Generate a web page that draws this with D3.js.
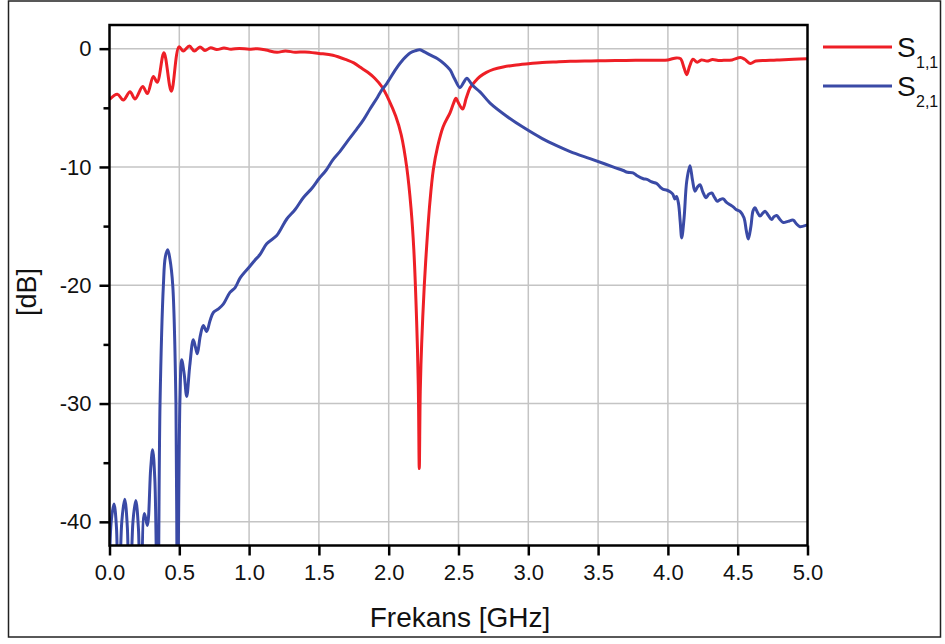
<!DOCTYPE html>
<html>
<head>
<meta charset="utf-8">
<script src="https://cdn.jsdelivr.net/npm/d3@7"></script>
<style>
  body { margin: 0; background: #fff; }
  svg { display: block; font-family: "Liberation Sans", Arial, sans-serif; }
</style>
</head>
<body>
<svg id="chart" width="945" height="644"></svg>
<script>
// frequency ticks [GHz] and dB ticks
var xTicks = [0, 0.5, 1, 1.5, 2, 2.5, 3, 3.5, 4, 4.5, 5];
var yTicks = [0, -10, -20, -30, -40];
var yMinorTicks = [-5, -15, -25, -35];

var seriesNames = ["1,1", "2,1"];
var seriesColors = ["#ee1f26", "#3a4aa6"];

// S11: [GHz, dB]
var s11 = [
    [0.00, -4.3], [0.056, -3.85], [0.099, -4.35], [0.147, -3.65], [0.183, -4.25],
    [0.238, -3.2], [0.271, -3.8], [0.314, -2.35], [0.342, -2.85], [0.390, -0.35],
    [0.443, -3.6], [0.498, 0.15], [0.529, -0.2], [0.572, 0.22], [0.608, -0.2],
    [0.648, 0.15], [0.684, -0.15], [0.725, 0.08], [0.768, -0.08], [0.82, 0.05],
    [0.87, -0.05], [0.93, 0.02], [1.0, -0.05], [1.06, 0.0], [1.12, -0.12],
    [1.2, -0.3], [1.26, -0.2], [1.33, -0.3], [1.4, -0.28], [1.5, -0.4],
    [1.6, -0.55], [1.7, -0.95], [1.75, -1.2], [1.8, -1.6], [1.85, -2.0],
    [1.9, -2.5], [1.95, -3.2], [2.0, -4.3], [2.05, -5.7], [2.09, -7.3],
    [2.13, -10.1], [2.16, -13.5], [2.18, -17.0], [2.2, -23.0], [2.212, -28.5],
    [2.219, -35.5], [2.226, -29.0], [2.236, -25.0], [2.255, -20.0], [2.272, -16.7],
    [2.295, -13.0], [2.32, -10.2], [2.35, -8.3], [2.39, -6.6], [2.44, -5.4],
    [2.465, -4.6], [2.482, -4.2], [2.5, -4.6], [2.53, -5.1], [2.555, -4.2],
    [2.583, -3.3], [2.62, -2.75], [2.654, -2.35], [2.7, -2.0], [2.75, -1.75],
    [2.82, -1.55], [2.9, -1.4], [3.0, -1.28], [3.1, -1.18], [3.2, -1.12],
    [3.3, -1.07], [3.45, -1.04], [3.55, -1.02], [3.7, -1.0], [3.8, -0.98],
    [3.9, -0.97], [4.0, -0.95], [4.06, -0.78], [4.09, -0.85], [4.115, -1.6],
    [4.135, -2.2], [4.155, -1.5], [4.18, -0.9], [4.21, -1.15], [4.24, -0.95],
    [4.28, -1.05], [4.32, -0.92], [4.36, -1.0], [4.4, -0.98], [4.46, -0.95],
    [4.52, -0.75], [4.55, -0.9], [4.59, -1.25], [4.63, -1.05], [4.7, -1.0],
    [4.76, -0.98], [4.8, -0.95], [4.9, -0.9], [5.0, -0.85]
];

// S21: [GHz, dB]; nulls run below the axis and get clipped
var s21 = [
    [0.0, -44], [0.012, -40], [0.032, -38.5], [0.05, -40.5], [0.063, -50],
    [0.088, -40], [0.109, -38.1], [0.128, -40.5], [0.142, -50],
    [0.168, -40], [0.188, -38.2], [0.207, -40.5], [0.223, -50],
    [0.25, -39.3], [0.271, -40.3], [0.295, -35.5], [0.309, -33.9], [0.325, -36.5], [0.345, -50],
    [0.362, -30], [0.386, -20], [0.40, -17.6], [0.417, -17.0], [0.433, -17.8],
    [0.453, -20], [0.476, -30], [0.486, -50],
    [0.505, -29.5], [0.517, -26.3], [0.535, -27.5], [0.553, -29.4], [0.575, -26.8],
    [0.6, -24.6], [0.615, -25.2], [0.629, -25.8], [0.65, -24.3], [0.672, -23.4],
    [0.696, -23.9], [0.72, -23.0], [0.744, -22.3], [0.78, -22.0], [0.815, -21.6],
    [0.863, -20.6], [0.9, -20.2], [0.935, -19.4], [1.006, -18.4], [1.04, -17.9],
    [1.078, -17.4], [1.126, -16.5], [1.198, -15.8], [1.23, -15.2], [1.27, -14.4],
    [1.33, -13.6], [1.388, -12.6], [1.45, -11.8], [1.5, -11.0], [1.55, -10.3],
    [1.6, -9.4], [1.65, -8.7], [1.7, -7.9], [1.771, -6.8], [1.82, -6.0],
    [1.866, -5.1], [1.92, -4.1], [1.95, -3.5], [1.986, -2.95], [2.05, -1.75],
    [2.105, -0.9], [2.153, -0.36], [2.19, -0.18], [2.224, -0.1], [2.26, -0.3],
    [2.3, -0.55], [2.35, -0.85], [2.4, -1.3], [2.44, -1.8], [2.47, -2.5],
    [2.51, -3.3], [2.535, -2.9], [2.559, -2.5], [2.6, -3.1], [2.654, -3.65],
    [2.726, -4.6], [2.85, -5.75], [2.964, -6.65], [3.1, -7.6], [3.203, -8.2],
    [3.3, -8.7], [3.442, -9.3], [3.55, -9.75], [3.62, -10.05], [3.68, -10.3],
    [3.71, -10.45], [3.75, -10.5], [3.78, -10.75], [3.824, -11.0], [3.85, -11.05],
    [3.88, -11.25], [3.92, -11.4], [3.945, -11.7], [3.967, -11.9], [3.99, -11.95],
    [4.015, -12.1], [4.035, -12.3], [4.05, -12.7], [4.062, -12.5], [4.076, -13.1],
    [4.088, -14.6], [4.099, -16.0], [4.116, -14.3],
    [4.135, -11.2], [4.158, -9.9], [4.176, -11.1], [4.194, -12.05], [4.212, -11.7],
    [4.23, -11.5], [4.25, -12.1], [4.273, -12.6], [4.293, -12.3], [4.314, -12.2],
    [4.335, -12.6], [4.354, -12.9], [4.375, -12.75], [4.397, -12.7], [4.42, -13.0],
    [4.445, -13.2], [4.47, -13.4], [4.488, -13.6], [4.52, -13.8], [4.545, -14.3],
    [4.562, -15.4], [4.576, -16.1], [4.595, -15.0], [4.61, -13.7], [4.624, -13.45],
    [4.64, -13.8], [4.66, -14.15], [4.68, -13.9], [4.696, -13.75], [4.72, -14.1],
    [4.743, -14.45], [4.76, -14.2], [4.779, -14.1], [4.8, -14.4], [4.827, -14.7],
    [4.86, -14.6], [4.898, -14.5], [4.92, -14.8], [4.946, -15.05], [4.97, -15.0],
    [5.0, -14.9]
];

var svg = d3.select("#chart");
var plotLeft = 109.5, plotRight = 807.5, plotTop = 25, plotBottom = 545.5;

var x = d3.scaleLinear().domain([0, 5]).range([plotLeft, plotRight]);
var y = d3.scaleLinear().domain([-42, 2]).range([plotBottom, plotTop]);

svg.append("rect")
    .attr("width", 945).attr("height", 644)
    .attr("fill", "#fff");

// outer frame of the figure
svg.append("rect")
    .attr("x", 8.5).attr("y", 1)
    .attr("width", 932).attr("height", 636)
    .attr("fill", "none")
    .attr("stroke", "#222")
    .attr("stroke-width", 1.5);

// grid
var grid = svg.append("g").attr("stroke", "#c4c4c4").attr("stroke-width", 1.5);
grid.selectAll("line.vx")
    .data(xTicks.filter(function (d) { return d > 0 && d < 5; }))
    .enter().append("line")
    .attr("x1", function (d) { return x(d); })
    .attr("x2", function (d) { return x(d); })
    .attr("y1", plotTop).attr("y2", plotBottom);
grid.selectAll("line.hy")
    .data(yTicks)
    .enter().append("line")
    .attr("x1", plotLeft).attr("x2", plotRight)
    .attr("y1", function (d) { return y(d); })
    .attr("y2", function (d) { return y(d); });

svg.append("clipPath").attr("id", "plotClip")
    .append("rect")
    .attr("x", plotLeft).attr("y", plotTop)
    .attr("width", plotRight - plotLeft).attr("height", plotBottom - plotTop);

var line = d3.line()
    .x(function (d) { return x(d[0]); })
    .y(function (d) { return y(d[1]); })
    .curve(d3.curveCatmullRom.alpha(0.5));

var lines = svg.append("g").attr("clip-path", "url(#plotClip)");
[s11, s21].forEach(function (s, i) {
    lines.append("path")
        .attr("d", line(s))
        .attr("fill", "none")
        .attr("stroke", seriesColors[i])
        .attr("stroke-width", 3)
        .attr("stroke-linejoin", "round");
});

// axes
var xAxis = d3.axisBottom(x)
    .tickValues(xTicks)
    .tickFormat(d3.format(".1f"))
    .tickSize(10).tickSizeOuter(0).tickPadding(9);
var yAxis = d3.axisLeft(y)
    .tickValues(yTicks)
    .tickFormat(function (d) { return String(d); })
    .tickSize(10).tickSizeOuter(0).tickPadding(8);
var yMinor = d3.axisLeft(y)
    .tickValues(yMinorTicks)
    .tickFormat("")
    .tickSize(6).tickSizeOuter(0);

function styleAxis(g) {
    g.attr("font-family", null).attr("font-size", null);
    g.select(".domain").remove();
    g.selectAll(".tick line").attr("stroke", "#000").attr("stroke-width", 2.5);
    g.selectAll(".tick text").attr("fill", "#111").style("font-size", "22px");
}

svg.append("g").attr("transform", "translate(0," + plotBottom + ")").call(xAxis).call(styleAxis);
svg.append("g").attr("transform", "translate(" + plotLeft + ",0)").call(yAxis).call(styleAxis);
svg.append("g").attr("transform", "translate(" + plotLeft + ",0)").call(yMinor).call(styleAxis);

// plot box
svg.append("rect")
    .attr("x", plotLeft).attr("y", plotTop)
    .attr("width", plotRight - plotLeft).attr("height", plotBottom - plotTop)
    .attr("fill", "none")
    .attr("stroke", "#000")
    .attr("stroke-width", 2.5);

// axis titles
svg.append("text")
    .attr("x", 460).attr("y", 627)
    .attr("text-anchor", "middle")
    .style("font-size", "28px")
    .attr("fill", "#111")
    .text("Frekans [GHz]");

svg.append("text")
    .attr("transform", "translate(36,292) rotate(-90)")
    .attr("text-anchor", "middle")
    .style("font-size", "27px")
    .attr("fill", "#111")
    .text("[dB]");

// legend
var legendY = [47, 86];
seriesNames.forEach(function (name, i) {
    svg.append("line")
        .attr("x1", 823).attr("x2", 892)
        .attr("y1", legendY[i]).attr("y2", legendY[i])
        .attr("stroke", seriesColors[i])
        .attr("stroke-width", 3);
    svg.append("text")
        .attr("x", 897).attr("y", legendY[i] + 10)
        .style("font-size", "28px")
        .attr("fill", "#111")
        .text("S");
    svg.append("text")
        .attr("x", 916).attr("y", legendY[i] + 21)
        .style("font-size", "16px")
        .attr("fill", "#111")
        .text(name);
});
</script>
</body>
</html>
